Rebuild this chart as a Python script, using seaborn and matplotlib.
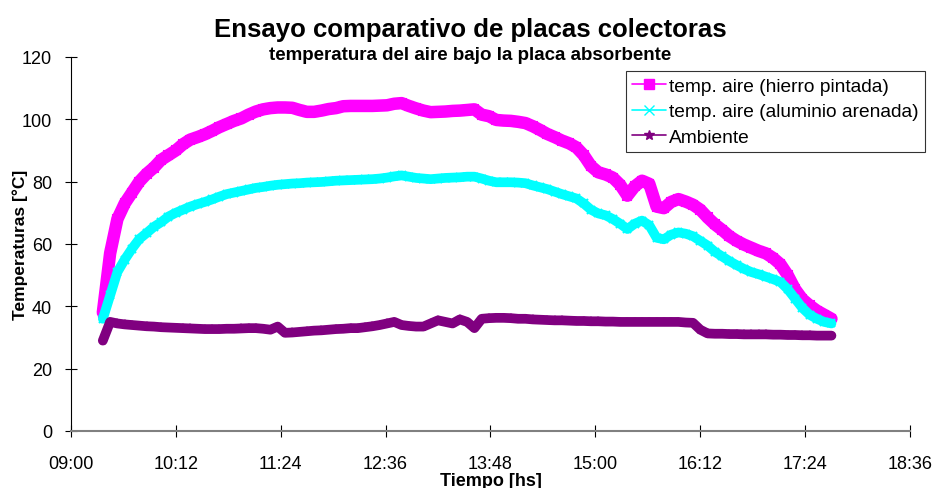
import numpy as np
import pandas as pd
import matplotlib
matplotlib.use("Agg")
import matplotlib.pyplot as plt
import matplotlib.dates as mdates
from matplotlib.lines import Line2D
import seaborn as sns

# readings every 5 minutes, 09:22 .. 17:42
start_time = "2000-01-01 09:22"
n_readings = 101

hierro = [38, 57, 68, 73, 76.5, 80, 82.5, 84.5, 87, 88.5,
          90, 92, 93.5, 94.3, 95.2, 96.3, 97.5, 98.5, 99.5, 100.3,
          101.5, 102.5, 103.2, 103.6, 103.8, 103.8, 103.7, 103, 102.4, 102.4,
          102.8, 103.3, 103.6, 104.2, 104.3, 104.3, 104.3, 104.3, 104.4, 104.5,
          105, 105.2, 104.3, 103.5, 102.8, 102.3, 102.4, 102.5, 102.7, 102.8,
          103, 103.2, 101.5, 101, 99.8, 99.6, 99.5, 99.2, 98.8, 97.8,
          96.6, 95.3, 94.3, 93.2, 92.3, 91, 88.5, 85, 83, 82.3,
          81.3, 79, 75.5, 78.5, 80.3, 79.3, 72, 71.5, 73.5, 74.4,
          73.6, 72.6, 71, 68.5, 66.3, 64.5, 62.5, 61, 59.8, 58.8,
          57.8, 57, 55.5, 53.5, 50, 45.5, 42.3, 40.3, 38.6, 37.3,
          36]

aluminio = [36, 43.5, 51, 55, 58.5, 61.6, 63.5, 65.5, 67, 68.8,
            70, 71, 72, 72.8, 73.5, 74.3, 75.2, 76, 76.5, 77,
            77.5, 78, 78.3, 78.7, 79, 79.2, 79.4, 79.5, 79.7, 79.8,
            79.9, 80.1, 80.3, 80.4, 80.5, 80.6, 80.7, 80.8, 81, 81.3,
            81.7, 82, 81.6, 81.2, 81, 80.8, 81, 81.2, 81.3, 81.4,
            81.6, 81.6, 81, 80.3, 79.8, 79.8, 79.8, 79.7, 79.5, 78.8,
            78.2, 77.6, 76.8, 76, 75.3, 74.6, 73, 71, 69.8, 69.2,
            68, 66.5, 64.8, 66.5, 67.5, 66, 62, 61.5, 63, 63.7,
            63.3, 62.5, 61, 59.5, 57.5, 56, 54.5, 53.2, 52, 51,
            50.3, 49.5, 48.7, 47.8, 45.5, 42.5, 39.5, 37.3, 36, 35,
            34.5]

ambiente = [29, 35, 34.5, 34.2, 34, 33.8, 33.6, 33.5, 33.3, 33.2,
            33.1, 33, 32.9, 32.8, 32.7, 32.7, 32.7, 32.8, 32.8, 32.9,
            33, 33, 32.8, 32.5, 33.5, 31.5, 31.6, 31.8, 32, 32.2,
            32.3, 32.5, 32.7, 32.8, 33, 33, 33.3, 33.6, 34, 34.5,
            35, 34, 33.7, 33.5, 33.5, 34.5, 35.5, 35, 34.5, 35.8,
            35, 33, 36, 36.2, 36.3, 36.3, 36.2, 36, 36, 35.8,
            35.7, 35.6, 35.5, 35.5, 35.4, 35.3, 35.3, 35.2, 35.2, 35.1,
            35.1, 35, 35, 35, 35, 35, 35, 35, 35, 35,
            34.8, 34.7, 32.5, 31.3, 31.2, 31.2, 31.1, 31.1, 31, 31,
            31, 31, 30.9, 30.9, 30.8, 30.8, 30.7, 30.7, 30.6, 30.6,
            30.6]

labels = ["temp. aire (hierro pintada)", "temp. aire (aluminio arenada)", "Ambiente"]
colors = ["#FF00FF", "#00FFFF", "#800080"]
markers = ["s", "x", "*"]

times = pd.date_range(start_time, periods=n_readings, freq="5min")
df = pd.DataFrame({"Tiempo": times, labels[0]: hierro, labels[1]: aluminio, labels[2]: ambiente})

sns.set_style("white")
plt.rcParams["font.family"] = ["Liberation Sans", "DejaVu Sans"]
plt.rcParams["text.color"] = "black"
plt.rcParams["axes.labelcolor"] = "black"
plt.rcParams["xtick.color"] = "black"
plt.rcParams["ytick.color"] = "black"

fig = plt.figure(figsize=(9.35, 4.89), dpi=100)
ax = fig.add_axes([0.0757, 0.1166, 0.8977, 0.7648])

widths = [9, 7, 7]
for lab, col, mk, w in zip(labels, colors, markers, widths):
    sns.lineplot(data=df, x="Tiempo", y=lab, ax=ax, color=col, lw=w,
                 marker=mk, markersize=6, markeredgecolor=col, markeredgewidth=1.5,
                 legend=False)

ax.set_xlim(pd.Timestamp("2000-01-01 09:00"), pd.Timestamp("2000-01-01 18:36"))
ax.set_ylim(0, 120)
ax.set_yticks(range(0, 121, 20))
ax.set_xticks(pd.date_range("2000-01-01 09:00", periods=9, freq="72min"))
ax.xaxis.set_major_formatter(mdates.DateFormatter("%H:%M"))
ax.tick_params(axis="both", labelsize=13, direction="inout", length=9, width=0.8,
               color="black", bottom=True, left=True)
ax.tick_params(axis="x", pad=13)
ax.tick_params(axis="y", pad=9)

for s in ["top", "right"]:
    ax.spines[s].set_visible(False)
ax.spines["left"].set_color("black")
ax.spines["bottom"].set_color("#808080")
ax.spines["bottom"].set_linewidth(1.5)
ax.spines["left"].set_linewidth(0.8)

ax.set_xlabel("Tiempo [hs]", fontsize=13, fontweight="bold", labelpad=0)
ax.set_ylabel("Temperaturas [°C]", fontsize=12.5, fontweight="bold")
ax.yaxis.set_label_coords(-0.051, 0.5)

fig.text(0.503, 0.925, "Ensayo comparativo de placas colectoras", ha="center",
         fontsize=18.5, fontweight="bold")
fig.text(0.503, 0.877, "temperatura del aire bajo la placa absorbente", ha="center",
         fontsize=13.5, fontweight="bold")

handles = [Line2D([0], [0], color=c, lw=1.2, marker=m, markersize=7,
                  markeredgecolor=c, markerfacecolor=c) for c, m in zip(colors, markers)]
leg = ax.legend(handles, labels, loc="upper right", bbox_to_anchor=(1.018, 0.963),
                fontsize=13.8, frameon=True, fancybox=False, handlelength=1.77,
                handletextpad=0.15, borderpad=0.33, labelspacing=0.43, borderaxespad=0)
leg.get_frame().set_edgecolor("black")
leg.get_frame().set_linewidth(0.8)

fig.savefig("out.png", dpi=100)
